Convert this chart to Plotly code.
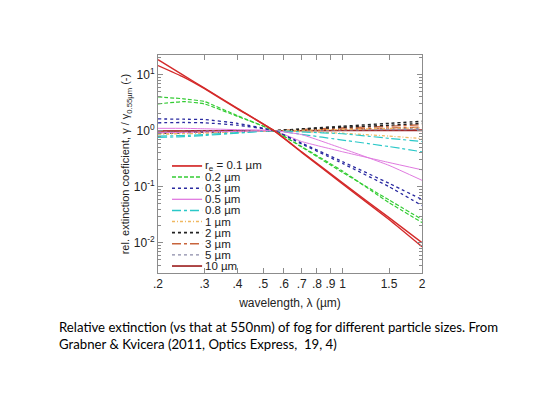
import plotly.graph_objects as go

# wavelength grid (um) and ratios gamma / gamma(0.55um), two fog models per size
wavelength = [0.2, 0.25, 0.3, 0.4, 0.55, 0.7, 1.0, 1.5, 2.0]

r01_a = [18.5, 9.7, 5.75, 2.5, 1, 0.42, 0.117, 0.028, 0.0100]
r01_b = [14.5, 9.0, 5.6, 2.45, 1, 0.41, 0.112, 0.026, 0.0085]
r02_a = [4.0, 3.7, 3.3, 1.85, 1, 0.51, 0.18, 0.058, 0.026]
r02_b = [3.0, 3.3, 3.0, 1.8, 1, 0.52, 0.19, 0.052, 0.023]
r03_a = [1.62, 1.6, 1.58, 1.35, 1, 0.6, 0.28, 0.115, 0.059]
r03_b = [1.38, 1.4, 1.38, 1.25, 1, 0.58, 0.26, 0.10, 0.046]
r05_a = [1.1, 1.1, 1.08, 1.04, 1, 0.64, 0.42, 0.27, 0.2]
r05_b = [0.92, 0.93, 0.95, 0.97, 1, 0.85, 0.48, 0.24, 0.13]
r08_a = [0.8, 0.82, 0.85, 0.92, 1, 0.95, 0.88, 0.73, 0.64]
r08_b = [0.76, 0.78, 0.82, 0.9, 1, 0.86, 0.68, 0.52, 0.42]
r1_a = [0.88, 0.9, 0.92, 0.96, 1, 1.02, 1.05, 1.1, 1.12]
r1_b = [0.86, 0.88, 0.9, 0.95, 1, 0.96, 0.9, 0.8, 0.72]
r2_a = [0.9, 0.92, 0.94, 0.97, 1, 1.08, 1.2, 1.35, 1.47]
r2_b = [0.92, 0.93, 0.95, 0.98, 1, 1.05, 1.15, 1.25, 1.35]
r3_a = [0.92, 0.93, 0.95, 0.98, 1, 1.05, 1.12, 1.2, 1.28]
r3_b = [0.94, 0.95, 0.96, 0.98, 1, 1.03, 1.07, 1.12, 1.16]
r5_a = [0.95, 0.96, 0.97, 0.99, 1, 1.02, 1.05, 1.08, 1.1]
r5_b = [0.96, 0.97, 0.98, 0.99, 1, 1.01, 1.03, 1.04, 1.05]
r10_a = [0.99, 0.99, 1.0, 1.0, 1, 1.0, 1.01, 1.02, 1.03]
r10_b = [0.98, 0.98, 0.99, 1.0, 1, 1.0, 1.0, 1.0, 1.0]

size_labels = ["r<sub>e</sub> = 0.1 µm", "0.2 µm", "0.3 µm", "0.5 µm", "0.8 µm",
               "1 µm", "2 µm", "3 µm", "5 µm", "10 µm"]

x_tickvals = [0.2, 0.3, 0.4, 0.5, 0.6, 0.7, 0.8, 0.9, 1, 1.5, 2]
x_ticktext = [".2", ".3", ".4", ".5", ".6", ".7", ".8", ".9", "1", "1.5", "2"]
y_tickvals = [0.01, 0.1, 1, 10]
y_ticktext = ["10<sup>-2</sup>", "10<sup>-1</sup>", "10<sup>0</sup>", "10<sup>1</sup>"]

series = [(r01_a, r01_b), (r02_a, r02_b), (r03_a, r03_b), (r05_a, r05_b), (r08_a, r08_b),
          (r1_a, r1_b), (r2_a, r2_b), (r3_a, r3_b), (r5_a, r5_b), (r10_a, r10_b)]
styles = [
    ("#d42a2a", "solid", 1.4),
    ("#33cc33", "4px,2px", 1.2),
    ("#2a2aa0", "dot", 1.3),
    ("#e07ae0", "solid", 1.0),
    ("#2ac8c8", "dashdot", 1.2),
    ("#f0b860", "3px,2px,1px,2px", 1.2),
    ("#222222", "dot", 1.4),
    ("#c8643c", "dashdot", 1.3),
    ("#8a8aa8", "dot", 1.1),
    ("#a02828", "solid", 1.4),
]

fig = go.Figure()

# draw the big-slope sizes last so they sit on top
order = [9, 8, 7, 6, 5, 4, 3, 2, 1, 0]
for i in order:
    color, dash, width = styles[i]
    for ys in series[i]:
        fig.add_trace(go.Scatter(x=wavelength, y=ys, mode="lines", showlegend=False,
                                 line=dict(color=color, dash=dash, width=width, shape="spline", smoothing=0.4)))

# hand-made legend in the lower left corner (plotly legend rows are too tall)
row_top = 0.491
row_step = 0.051
for i, label in enumerate(size_labels):
    color, dash, width = styles[i]
    yy = row_top - i * row_step
    fig.add_shape(type="line", xref="paper", yref="paper", x0=0.053, x1=0.167, y0=yy, y1=yy,
                  line=dict(color=color, dash=dash, width=width + 0.3))
    fig.add_annotation(xref="paper", yref="paper", x=0.176, y=yy, text=label, showarrow=False,
                       xanchor="left", yanchor="middle", borderpad=0,
                       font=dict(size=11.5, color="#222"))

# rotated y title
fig.add_annotation(xref="paper", yref="paper", x=-0.12, y=0.5, textangle=-90, showarrow=False,
                   text="rel. extinction coeficient, γ / γ<sub>0.55µm</sub> (-)",
                   xanchor="center", yanchor="middle", font=dict(size=11, color="#222"))

caption = ("Relative extinction (vs that at 550nm) of fog for different particle sizes. From<br>"
           "Grabner &amp; Kvicera (2011, Optics Express,  19, 4)")
fig.add_annotation(xref="paper", yref="paper", x=-0.383, y=-0.2, text=caption, showarrow=False,
                   xanchor="left", yanchor="top", align="left",
                   font=dict(family="Lato", size=13.2, color="#000"))

axis_common = dict(showgrid=False, zeroline=False, showline=True, linecolor="#8c8c8c", linewidth=1,
                   mirror="allticks", ticks="inside", tickcolor="#8c8c8c", ticklen=5,
                   tickfont=dict(size=12, color="#222"))

fig.update_xaxes(type="log", range=[-0.69897, 0.30103], tickvals=x_tickvals, ticktext=x_ticktext,
                 title=dict(text="wavelength, λ (µm)", font=dict(size=12, color="#222"), standoff=8),
                 **axis_common)
fig.update_yaxes(type="log", range=[-2.54, 1.35], tickvals=y_tickvals, ticktext=y_ticktext,
                 minor=dict(ticks="inside", ticklen=3, tickcolor="#8c8c8c", dtick="D1"),
                 **axis_common)

fig.update_layout(width=540, height=405, margin=dict(l=150, r=126, t=47, b=140),
                  paper_bgcolor="white", plot_bgcolor="white",
                  font=dict(family="Liberation Sans", color="#222"))

fig.write_html("out.html")
